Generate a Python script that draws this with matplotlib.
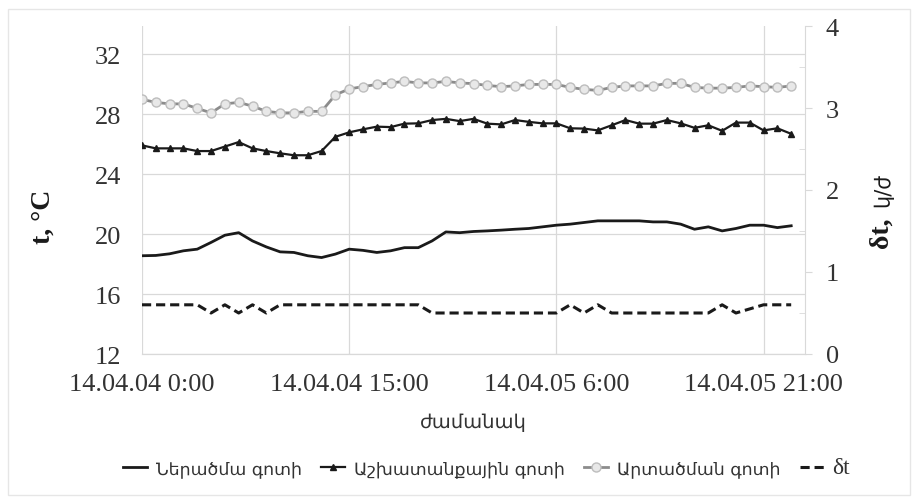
import numpy as np
import matplotlib.pyplot as plt
from matplotlib.patches import Rectangle

OUTPUT_IMAGE = "out.png"

# hourly readings, 14.04.04 0:00 -> 14.04.05 23:00
hours = np.arange(48)

inlet = [18.56, 18.58, 18.69, 18.89, 19.0, 19.45, 19.93, 20.1, 19.55, 19.15,
         18.82, 18.78, 18.56, 18.44, 18.67, 19.0, 18.92, 18.78, 18.89, 19.1,
         19.1, 19.55, 20.15, 20.1, 20.18, 20.22, 20.27, 20.33, 20.38, 20.49,
         20.6, 20.67, 20.78, 20.89, 20.89, 20.89, 20.89, 20.82, 20.82, 20.67,
         20.33, 20.49, 20.22, 20.38, 20.6, 20.6, 20.44, 20.56]

working = [25.93, 25.73, 25.73, 25.73, 25.55, 25.55, 25.85, 26.15, 25.73, 25.55,
           25.4, 25.27, 25.27, 25.55, 26.5, 26.8, 27.0, 27.18, 27.15, 27.38,
           27.4, 27.62, 27.7, 27.55, 27.7, 27.38, 27.33, 27.62, 27.5, 27.4,
           27.4, 27.07, 27.05, 26.93, 27.27, 27.62, 27.38, 27.38, 27.62, 27.4,
           27.1, 27.27, 26.9, 27.45, 27.45, 26.93, 27.07, 26.7]

outlet = [29.0, 28.8, 28.7, 28.7, 28.4, 28.1, 28.7, 28.8, 28.55, 28.2,
          28.1, 28.1, 28.2, 28.2, 29.3, 29.7, 29.85, 30.0, 30.1, 30.2,
          30.1, 30.1, 30.2, 30.1, 30.05, 29.93, 29.85, 29.9, 30.0, 30.0,
          30.0, 29.8, 29.67, 29.6, 29.8, 29.9, 29.9, 29.9, 30.07, 30.07,
          29.8, 29.75, 29.75, 29.8, 29.9, 29.85, 29.8, 29.9]

dt = [0.6, 0.6, 0.6, 0.6, 0.6, 0.5, 0.6, 0.5, 0.6, 0.5,
      0.6, 0.6, 0.6, 0.6, 0.6, 0.6, 0.6, 0.6, 0.6, 0.6,
      0.6, 0.5, 0.5, 0.5, 0.5, 0.5, 0.5, 0.5, 0.5, 0.5,
      0.5, 0.6, 0.5, 0.6, 0.5, 0.5, 0.5, 0.5, 0.5, 0.5,
      0.5, 0.5, 0.6, 0.5, 0.55, 0.6, 0.6, 0.6]

x_ticks = [0, 15, 30, 45]
x_tick_labels = ["14.04.04 0:00", "14.04.04 15:00", "14.04.05 6:00", "14.04.05 21:00"]
labels = ["Ներածմա գոտի", "Աշխատանքային գոտի", "Արտածման գոտի", "δt"]

SERIF = ["Liberation Serif", "DejaVu Serif"]
SANS = ["DejaVu Sans"]
GRID = "#d9d9d9"
TXT = "#333333"

fig = plt.figure(figsize=(9.18, 5.02), dpi=100)
ax = fig.add_axes([142 / 918, 1 - 355 / 502, (805 - 142) / 918, (355 - 27) / 502])
ax2 = ax.twinx()

# faint chart-area border
fig.patches.append(Rectangle((8 / 918, 6 / 502), 902 / 918, 486 / 502,
                             transform=fig.transFigure, fill=False,
                             edgecolor="#e6e6e6", linewidth=1))

l1, = ax.plot(hours, inlet, color="#1a1a1a", lw=2.0)
l2, = ax.plot(hours, working, color="#1a1a1a", lw=1.6, marker="^", markersize=4.5)
l3, = ax.plot(hours, outlet, color="#8c8c8c", lw=2.0, marker="o", markersize=6.5,
              markerfacecolor="#e8e8e8", markeredgecolor="#bdbdbd", markeredgewidth=1)
l4, = ax2.plot(hours, dt, color="#1a1a1a", lw=2.2, ls=(0, (3, 1.6)))

ax.set_xlim(0, 48)
ax.set_ylim(12, 33.9)
ax.set_yticks([12, 16, 20, 24, 28, 32])
ax2.set_ylim(0, 4)
ax2.set_yticks([0, 1, 2, 3, 4])
ax2.set_yticks([0.5, 1.5, 2.5, 3.5], minor=True)
ax.set_xticks(x_ticks)
ax.set_xticklabels(x_tick_labels)

ax.grid(True, color=GRID, lw=0.9)
ax.set_axisbelow(True)
for a in (ax, ax2):
    a.spines["top"].set_visible(False)
    a.spines["left"].set_visible(False)
    a.spines["bottom"].set_color(GRID)
    a.spines["right"].set_visible(False)
ax2.spines["right"].set_visible(True)
ax2.spines["right"].set_color(GRID)

ax.tick_params(axis="y", length=0, pad=15, labelsize=19, labelcolor=TXT)
ax.tick_params(axis="x", length=0, pad=14, labelsize=19, labelcolor=TXT)
ax2.tick_params(axis="y", which="major", length=5, color=GRID, pad=10, labelsize=19, labelcolor=TXT)
ax2.tick_params(axis="y", which="minor", length=4, direction="in", color=GRID)
for t in ax.get_xticklabels() + ax.get_yticklabels() + ax2.get_yticklabels():
    t.set_fontfamily(SERIF)

ax.set_xlabel("ժամանակ", fontsize=14, family=SANS, color=TXT, labelpad=12)
ax.set_ylabel("t, °C", fontsize=20, family=SERIF, fontweight="bold", color="#1a1a1a")
ax.yaxis.set_label_coords(-0.13, 0.42)

fig.text(881 / 918, 1 - 233 / 502, "δt,", rotation=90, ha="center", va="center",
         fontsize=20, family=SERIF, fontweight="bold", color="#1a1a1a")
fig.text(883 / 918, 1 - 190 / 502, "կ/ժ", rotation=90, ha="center", va="center",
         fontsize=15, family=SANS, color="#1a1a1a")

leg = fig.legend([l1, l2, l3, l4], labels, loc="center", bbox_to_anchor=(0.53, 1 - 469 / 502),
                 ncol=4, frameon=False, fontsize=12.5, handlelength=1.4,
                 handletextpad=0.5, columnspacing=1.1)
for t in leg.get_texts():
    t.set_fontfamily(SANS)
    t.set_color(TXT)
leg.get_texts()[3].set_fontfamily(SERIF)
leg.get_texts()[3].set_fontsize(17)

plt.savefig(OUTPUT_IMAGE, dpi=100)
